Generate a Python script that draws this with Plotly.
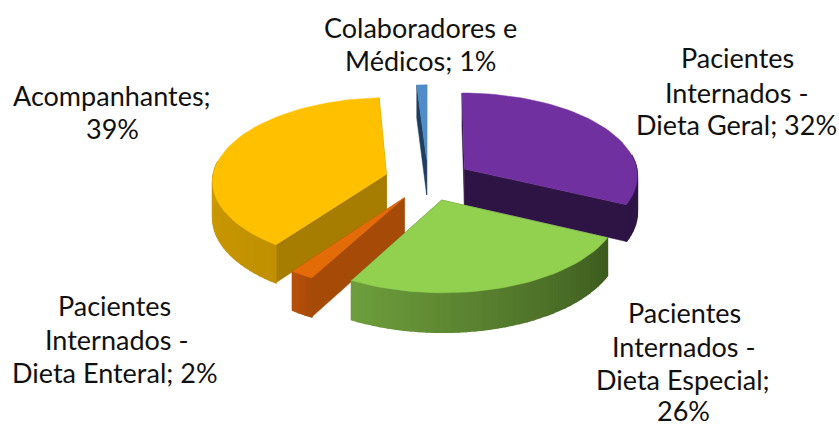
import numpy as np
import plotly.graph_objects as go

categories = ["Pacientes Internados - Dieta Geral", "Pacientes Internados - Dieta Especial",
              "Pacientes Internados - Dieta Enteral", "Acompanhantes", "Colaboradores e Médicos"]
values = [32, 26, 2, 39, 1]
label_lines = [["Pacientes", "Internados -", "Dieta Geral; 32%"],
               ["Pacientes", "Internados -", "Dieta Especial;", "26%"],
               ["Pacientes", "Internados -", "Dieta Enteral; 2%"],
               ["Acompanhantes;", "39%"],
               ["Colaboradores e", "Médicos; 1%"]]
label_x = [[737, 736, 736], [684, 683, 683, 683], [114, 116, 115], [112, 112], [420, 420]]
label_y = [[57, 92, 124], [312, 346, 379, 410], [305, 339, 372], [95, 128], [27, 60]]
top_colors = ["#7030A0", "#92D050", "#E36C09", "#FFC000", "#4F8CC9"]
wall_colors = ["#2E1444", "#3E5A20", "#A64A08", "#A67D00", "#1F3F60"]
outer_left = ["#2E1444", "#6E9E3C", "#B8500A", "#E0A800", "#1F3F60"]
outer_right = ["#3A1A55", "#3C5A1E", "#A64A08", "#C09000", "#1F3F60"]
draw_order = [4, 3, 0, 2, 1]

CX, CY, RX, RY, PERSP, DEPTH, PULL = 428, 180, 174, 83, 0.072, 36, 0.25


def project(u, v, drop=0.0):
    s = 1 / (1 - PERSP * v)
    return CX + RX * u * s, CY + RY * v * s + drop * DEPTH * s


def hex_mix(a, b, t):
    ca = [int(a[i:i + 2], 16) for i in (1, 3, 5)]
    cb = [int(b[i:i + 2], 16) for i in (1, 3, 5)]
    return "rgb(%d,%d,%d)" % tuple(round(x + (y - x) * t) for x, y in zip(ca, cb))


fig = go.Figure()


def poly(xs, ys, color, lw=0.5):
    fig.add_trace(go.Scatter(x=list(xs), y=list(ys), mode="lines", fill="toself", fillcolor=color,
                             line=dict(width=lw, color=color), hoverinfo="skip", showlegend=False))


edges = np.concatenate([[0], np.cumsum(values)]) / sum(values) * 2 * np.pi
for i in draw_order:
    a0, a1 = edges[i], edges[i + 1]
    mid = (a0 + a1) / 2
    ou, ov = PULL * np.sin(mid), -PULL * np.cos(mid)
    th = np.linspace(a0, a1, max(4, int((a1 - a0) * 25)))
    us, vs = ou + np.sin(th), ov - np.cos(th)
    for j in (0, -1):
        x1, y1 = project(ou, ov)
        x2, y2 = project(us[j], vs[j])
        x3, y3 = project(us[j], vs[j], 1)
        x4, y4 = project(ou, ov, 1)
        poly([x1, x2, x3, x4, x1], [y1, y2, y3, y4, y1], wall_colors[i])
    for k in range(len(th) - 1):
        if -np.cos(th[k]) < -0.15 and -np.cos(th[k + 1]) < -0.15:
            continue
        x1, y1 = project(us[k], vs[k])
        x2, y2 = project(us[k + 1], vs[k + 1])
        x3, y3 = project(us[k + 1], vs[k + 1], 1)
        x4, y4 = project(us[k], vs[k], 1)
        t = (k + 0.5) / (len(th) - 1)
        c = hex_mix(outer_right[i], outer_left[i], t)
        poly([x1, x2, x3, x4, x1], [y1, y2, y3, y4, y1], c, lw=1.5)
    xa, ya = project(ou, ov)
    xt, yt = project(us, vs)
    poly(np.r_[xa, xt, xa], np.r_[ya, yt, ya], top_colors[i])

annotations = []
for lines, xs, ys in zip(label_lines, label_x, label_y):
    for line, x, y in zip(lines, xs, ys):
        annotations.append(dict(x=x, y=y, text=line, showarrow=False, xanchor="center", yanchor="middle",
                                font=dict(family="Lato", size=27, color="#111111")))

fig.update_layout(width=839, height=427, margin=dict(l=0, r=0, t=0, b=0), paper_bgcolor="white",
                  plot_bgcolor="white", showlegend=False, annotations=annotations,
                  xaxis=dict(range=[0, 839], visible=False),
                  yaxis=dict(range=[427, 0], visible=False))
fig.write_html("out.html", config={"displayModeBar": False},
               post_script="document.body.style.margin='0';document.body.style.overflow='hidden';")
